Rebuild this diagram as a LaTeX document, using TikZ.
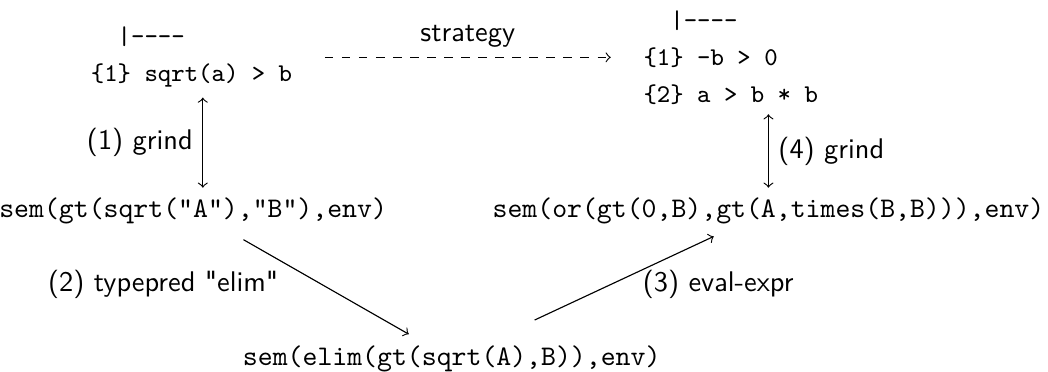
\documentclass[tikz,border=0pt]{standalone}
\usepackage{fontspec}
\usepackage{tikz}
\newfontfamily\lblfont{lmsans10-regular.otf}
\tikzset{
  goal/.style={font=\ttfamily\small, align=left, anchor=west},
  term/.style={font=\ttfamily},
  lbl/.style={font=\lblfont},
  >=to
}

\begin{document}
\begin{tikzpicture}
\useasboundingbox (0,0) rectangle (12.97,-4.60);
% Sequents at the top
\node[goal] (goalL) at (1.00,-0.71) {\ \ |----\\[2pt]\{1\} sqrt(a) > b};
\node[goal] (goalR) at (7.84,-0.71) {\ \ |----\\[2pt]\{1\} -b > 0\\[2pt]\{2\} a > b * b};
% Terms of the embedding
\node[term] (semL) at (2.39,-2.61) {sem(gt(sqrt("A"),"B"),env)};
\node[term] (semR) at (9.51,-2.61) {sem(or(gt(0,B),gt(A,times(B,B))),env)};
\node[term] (semB) at (5.59,-4.44) {sem(elim(gt(sqrt(A),B)),env)};
% Strategy step
\draw[->,dashed,shorten <=8pt,shorten >=8pt] (goalL) -- node[above,lbl]{strategy} (goalR);
% Steps (1)--(4)
\coordinate (upL) at ([xshift=0.12cm]semL.north);
\draw[<->] (upL) -- (upL |- goalL.south) node[midway,left,lbl]{(1) grind};
\draw[->,shorten <=4pt,shorten >=1pt] (semL) -- node[midway,left=12pt,lbl]{(2) typepred "elim"} (semB);
\draw[->,shorten <=13pt,shorten >=2pt] (semB) -- node[midway,right=8pt,lbl]{(3) eval-expr} (semR);
\draw[<->] (semR.north) -- (semR.north |- goalR.south) node[midway,right,lbl]{(4) grind};
\end{tikzpicture}
\end{document}
